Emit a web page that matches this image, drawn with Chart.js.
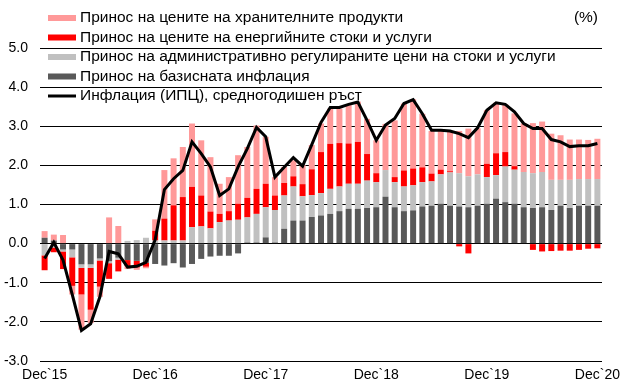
<!DOCTYPE html>
<html><head><meta charset="utf-8">
<script src="https://cdn.jsdelivr.net/npm/chart.js@4"></script>
<style>html,body{margin:0;padding:0;background:#fff}</style>
</head><body>
<canvas id="c" width="630" height="392"></canvas>
<script>
const categories = [
 "Dec`15",
 "Jan`16","Feb`16","Mar`16","Apr`16","May`16","Jun`16","Jul`16","Aug`16","Sep`16","Oct`16","Nov`16","Dec`16",
 "Jan`17","Feb`17","Mar`17","Apr`17","May`17","Jun`17","Jul`17","Aug`17","Sep`17","Oct`17","Nov`17","Dec`17",
 "Jan`18","Feb`18","Mar`18","Apr`18","May`18","Jun`18","Jul`18","Aug`18","Sep`18","Oct`18","Nov`18","Dec`18",
 "Jan`19","Feb`19","Mar`19","Apr`19","May`19","Jun`19","Jul`19","Aug`19","Sep`19","Oct`19","Nov`19","Dec`19",
 "Jan`20","Feb`20","Mar`20","Apr`20","May`20","Jun`20","Jul`20","Aug`20","Sep`20","Oct`20","Nov`20","Dec`20"
];
const seriesNames = [
 "Принос на цените на хранителните продукти",
 "Принос на цените на енергийните стоки и услуги",
 "Принос на административно регулираните цени на стоки и услуги",
 "Принос на базисната инфлация",
 "Инфлация (ИПЦ), средногодишен ръст"
];
const food = [
 0.17,
 0.15,0.22,-0.22,-0.90,-0.34,-0.26,0.67,0.45,-0.08,-0.06,-0.04,0.29,
 1.24,1.20,1.28,1.62,1.41,1.39,0.77,0.87,1.24,1.30,1.62,1.20,
 0.47,0.41,0.41,0.49,0.62,0.73,0.90,0.88,0.98,1.03,0.90,0.84,
 1.18,1.45,1.71,1.77,1.37,1.09,1.01,1.03,1.08,1.22,1.18,1.37,
 1.29,1.22,1.35,1.24,1.28,1.29,1.18,1.14,1.03,1.01,1.00,1.03
];
const energy = [
 -0.38,
 -0.12,-0.45,-0.73,-0.68,-1.07,-0.67,-0.40,-0.30,-0.15,-0.17,-0.10,0.25,
 0.56,0.90,1.11,1.03,0.79,0.43,0.21,0.24,0.41,0.50,0.64,0.60,
 0.37,0.32,0.26,0.31,0.66,1.05,1.15,1.11,1.03,1.07,0.68,0.23,
 0.00,0.13,0.41,0.43,0.38,0.20,0.12,0.03,-0.07,-0.25,0.00,0.34,
 0.56,0.37,0.09,0.00,-0.16,-0.20,-0.19,-0.18,-0.18,-0.16,-0.13,-0.12
];
const administered = [
 -0.30,
 -0.10,-0.05,-0.20,-0.09,-0.09,-0.05,-0.05,-0.05,0.07,0.09,0.15,0.08,
 0.08,0.08,0.08,0.42,0.44,0.39,0.55,0.59,0.61,0.64,0.73,0.77,
 0.83,0.85,0.87,0.62,0.56,0.57,0.64,0.63,0.64,0.64,0.70,0.64,
 0.68,0.64,0.63,0.64,0.62,0.62,0.75,0.85,0.85,0.79,0.80,0.68,
 0.60,0.91,0.87,0.90,0.89,0.90,0.77,0.66,0.72,0.68,0.68,0.68
];
const core = [
 0.15,
 0.08,-0.15,-0.15,-0.53,-0.53,-0.38,-0.45,-0.36,-0.42,-0.44,-0.49,-0.52,
 -0.56,-0.50,-0.61,-0.52,-0.39,-0.33,-0.31,-0.31,-0.25,0.03,0.03,0.16,
 0.03,0.38,0.59,0.59,0.68,0.72,0.76,0.83,0.89,0.89,0.91,0.93,
 1.20,0.93,0.83,0.85,0.95,0.97,1.02,0.97,0.95,0.93,0.97,1.02,
 1.15,1.06,1.02,0.93,0.91,0.93,0.86,0.97,0.91,0.97,0.97,0.97
];
const inflation = [
 -0.38,
 0.03,-0.42,-1.30,-2.22,-2.05,-1.36,-0.20,-0.26,-0.60,-0.58,-0.48,0.10,
 1.38,1.66,1.87,2.60,2.30,1.96,1.23,1.40,1.96,2.43,2.97,2.73,
 1.70,1.95,2.20,1.98,2.53,3.10,3.48,3.48,3.56,3.62,3.15,2.64,
 3.03,3.20,3.58,3.68,3.32,2.90,2.90,2.88,2.81,2.71,2.96,3.41,
 3.60,3.56,3.37,3.07,2.94,2.94,2.66,2.60,2.48,2.50,2.50,2.56
];
const yTicks = [-3, -2, -1, 0, 1, 2, 3, 4, 5];

const FONT = '"Liberation Sans", Arial, sans-serif';

const legendPlugin = {
  id: 'customLegend',
  afterDraw(chart) {
    const ctx = chart.ctx;
    ctx.save();
    ctx.font = '15.5px ' + FONT;
    ctx.textBaseline = 'middle';
    chart.data.datasets.forEach((ds, i) => {
      const y = 18 + i * 19.5;
      if (ds.type === 'line') {
        ctx.fillStyle = '#000';
        ctx.fillRect(48, y - 1.5, 28, 3);
      } else {
        ctx.fillStyle = ds.backgroundColor;
        ctx.fillRect(48, y - 3, 28, 6);
      }
      ctx.fillStyle = '#000';
      ctx.textAlign = 'left';
      ctx.fillText(ds.label, 80, y);
    });
    ctx.textAlign = 'right';
    ctx.fillText('(%)', 598, 18);
    ctx.restore();
  }
};

const barOpts = { type: 'bar', categoryPercentage: 1.0, barPercentage: 0.65, borderWidth: 0 };

new Chart(document.getElementById('c'), {
  data: {
    labels: categories,
    datasets: [
      Object.assign({}, barOpts, { label: seriesNames[0], data: food, backgroundColor: '#FF9999', order: 4 }),
      Object.assign({}, barOpts, { label: seriesNames[1], data: energy, backgroundColor: '#FF0000', order: 3 }),
      Object.assign({}, barOpts, { label: seriesNames[2], data: administered, backgroundColor: '#C0C0C0', order: 2 }),
      Object.assign({}, barOpts, { label: seriesNames[3], data: core, backgroundColor: '#595959', order: 1 }),
      { type: 'line', label: seriesNames[4], data: inflation, borderColor: '#000', backgroundColor: '#000',
        borderWidth: 3, pointRadius: 0, tension: 0, order: 0, stack: 'line', clip: false }
    ]
  },
  options: {
    responsive: false,
    animation: false,
    layout: { padding: { left: 4, right: 28, top: 48, bottom: 3 } },
    plugins: { legend: { display: false }, tooltip: { enabled: false } },
    scales: {
      x: {
        stacked: true,
        offset: true,
        grid: { display: false, drawTicks: false },
        border: { display: false },
        afterFit: (axis) => { axis.height = 28; },
        ticks: {
          autoSkip: false, maxRotation: 0, minRotation: 0, padding: 6,
          color: '#000', font: { family: FONT, size: 14 },
          callback: (v, i) => (i % 12 === 0 ? categories[i] : '')
        }
      },
      y: {
        stacked: true,
        min: yTicks[0], max: yTicks[yTicks.length - 1],
        afterBuildTicks: (axis) => { axis.ticks = yTicks.map(v => ({ value: v })); },
        afterFit: (axis) => { axis.width = 36; },
        grid: { color: '#000', lineWidth: 1, drawTicks: false },
        border: { display: false },
        ticks: { padding: 12, color: '#000', font: { family: FONT, size: 14 },
          callback: (v) => Number(v).toFixed(1) }
      }
    }
  },
  plugins: [legendPlugin]
});
</script>
</body></html>
